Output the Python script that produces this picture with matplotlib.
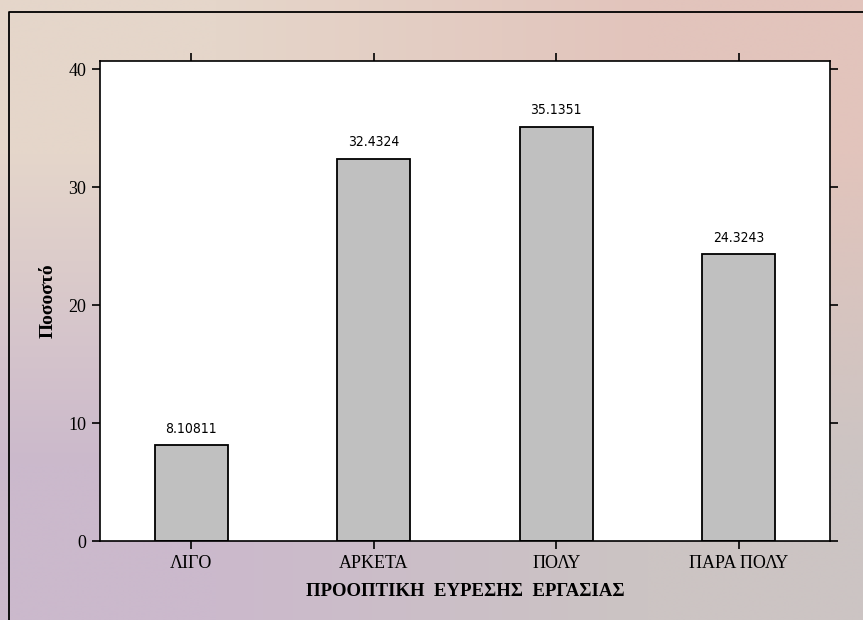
import numpy as np
import matplotlib
matplotlib.use('Agg')
from matplotlib import pyplot as plt
from matplotlib.lines import Line2D

# DATOS
categories = ['ΛΙΓΟ', 'ΑΡΚΕΤΑ', 'ΠΟΛΥ', 'ΠΑΡΑ ΠΟΛΥ']
percent = [8.10811, 32.4324, 35.1351, 24.3243]
labels = ['8.10811', '32.4324', '35.1351', '24.3243']
yticks = [0, 10, 20, 30, 40]

fig = plt.figure(figsize=(8.63, 6.20), dpi=100)

# fondo degradado
bg = fig.add_axes([0, 0, 1, 1], zorder=-10)
corners = np.array([[[0xe5, 0xd6, 0xca], [0xe2, 0xc4, 0xbc]],
                    [[0xcb, 0xb9, 0xcc], [0xcc, 0xc4, 0xc3]]]) / 255.0
bg.imshow(corners, extent=[0, 1, 0, 1], interpolation='bilinear', aspect='auto')
bg.axis('off')

# marco exterior
fx = 8.5 / 863
fy = 1 - 11.5 / 620
fig.add_artist(Line2D([fx, fx, 1.0], [0, fy, fy], color='black', lw=1.3,
                      transform=fig.transFigure))

ax = fig.add_axes([100 / 863, 1 - 541 / 620, 730 / 863, 480 / 620])
ax.set_facecolor('white')
x = np.arange(len(categories))
ax.bar(x, percent, width=0.4, color='#c0c0c0', edgecolor='black', linewidth=1.3)

for xi, v, t in zip(x, percent, labels):
    ax.text(xi, v + 0.8, t, ha='center', va='bottom', fontsize=10,
            family='DejaVu Sans', fontstretch='condensed')

ax.set_xlim(-0.5, 3.5)
ax.set_ylim(0, 40.7)
ax.set_xticks(x)
ax.set_xticklabels(categories, family='Liberation Serif', fontsize=13)
ax.set_yticks(yticks)
ax.set_yticklabels([str(t) for t in yticks], family='Liberation Serif', fontsize=13)
ax.tick_params(direction='out', length=6, width=1.2, top=True, right=True, pad=4)

for s in ax.spines.values():
    s.set_linewidth(1.2)

ax.set_xlabel('ΠΡΟΟΠΤΙΚΗ  ΕΥΡΕΣΗΣ  ΕΡΓΑΣΙΑΣ', family='Liberation Serif',
              fontweight='bold', fontsize=13.5, labelpad=8)
ax.set_ylabel('Ποσοστό', family='Liberation Serif', fontweight='bold',
              fontsize=14, labelpad=8)

plt.savefig('out.png', dpi=100)
